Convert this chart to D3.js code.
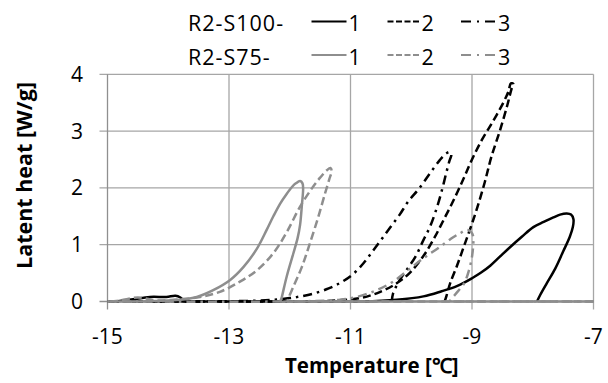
<!DOCTYPE html>
<html><head><meta charset="utf-8">
<script src="https://cdn.jsdelivr.net/npm/d3@7"></script>
<style>body{margin:0;background:#fff} svg{display:block} text{font-family:"Open Sans",sans-serif;fill:#000}</style>
</head><body><svg id="c" width="608" height="383"></svg>
<script>
// ---- data ----
const xTicks = [-15, -13, -11, -9, -7];
const yTicks = [0, 1, 2, 3, 4];
const legendGroups = ["R2-S100-", "R2-S75-"];
const legendNumbers = ["1", "2", "3"];
const xTitle = "Temperature [\u2103]";
const yTitle = "Latent heat [W/g]";

// [temperature °C, latent heat W/g]
const r2s100_1 = [[-7.93,0],[-7.88,0.11],[-7.77,0.32],[-7.63,0.58],[-7.50,0.88],[-7.39,1.14],[-7.34,1.31],[-7.33,1.45],[-7.37,1.53],[-7.44,1.55],[-7.55,1.53],[-7.66,1.48],[-7.82,1.40],[-7.99,1.31],[-8.18,1.14],[-8.37,0.96],[-8.55,0.78],[-8.70,0.63],[-8.85,0.51],[-9.0,0.41],[-9.25,0.27],[-9.50,0.18],[-9.80,0.09],[-10.24,0.03],[-10.8,0.0],[-11.2,0],[-13.4,0],[-13.6,0],[-13.72,0.0],[-13.80,0.07],[-13.88,0.10],[-14.03,0.08],[-14.30,0.08],[-14.58,0.04],[-14.8,0.01],[-15,0]];
const r2s100_2 = [[-9.45,0],[-9.42,0.10],[-9.36,0.32],[-9.25,0.62],[-9.14,0.95],[-9.03,1.28],[-8.92,1.63],[-8.79,2.10],[-8.68,2.55],[-8.54,3.01],[-8.42,3.45],[-8.35,3.74],[-8.32,3.83],[-8.36,3.84],[-8.40,3.70],[-8.48,3.51],[-8.65,3.18],[-8.84,2.84],[-9.0,2.50],[-9.14,2.16],[-9.30,1.79],[-9.47,1.43],[-9.63,1.10],[-9.80,0.80],[-10.02,0.51],[-10.24,0.32],[-10.51,0.17],[-10.84,0.06],[-11.2,0.02],[-11.6,0],[-12,0],[-15,0]];
const r2s100_3 = [[-10.32,0],[-10.30,0.14],[-10.20,0.36],[-10.08,0.55],[-9.93,0.79],[-9.80,1.08],[-9.69,1.32],[-9.57,1.68],[-9.49,1.98],[-9.42,2.28],[-9.37,2.48],[-9.34,2.58],[-9.36,2.63],[-9.42,2.61],[-9.53,2.49],[-9.69,2.26],[-9.87,1.99],[-10.05,1.76],[-10.19,1.53],[-10.35,1.30],[-10.50,1.08],[-10.64,0.88],[-10.79,0.67],[-10.96,0.48],[-11.15,0.34],[-11.36,0.23],[-11.61,0.14],[-11.82,0.09],[-12.0,0.06],[-12.4,0.02],[-13,0.005],[-13.4,0],[-15,0]];
const r2s75_1 = [[-7,0],[-11.9,0],[-12.05,0],[-12.15,0],[-12.13,0.08],[-12.05,0.44],[-11.94,0.85],[-11.87,1.12],[-11.83,1.35],[-11.80,1.70],[-11.78,1.98],[-11.79,2.08],[-11.83,2.12],[-11.90,2.08],[-11.96,2.02],[-12.06,1.88],[-12.16,1.72],[-12.27,1.50],[-12.38,1.26],[-12.54,0.93],[-12.76,0.61],[-12.98,0.38],[-13.26,0.20],[-13.53,0.08],[-13.81,0.03],[-14.2,0.01],[-14.5,0],[-15,0]];
const r2s75_2 = [[-7,0],[-11.8,0],[-11.95,0],[-12.03,0],[-12.02,0.06],[-11.94,0.26],[-11.80,0.61],[-11.67,1.02],[-11.53,1.49],[-11.42,1.90],[-11.35,2.15],[-11.31,2.30],[-11.33,2.35],[-11.39,2.31],[-11.50,2.18],[-11.63,2.00],[-11.83,1.67],[-12.05,1.22],[-12.27,0.85],[-12.54,0.55],[-12.82,0.35],[-13.15,0.17],[-13.48,0.08],[-13.81,0.04],[-14.2,0.02],[-14.35,0.05],[-14.5,0.07],[-14.65,0.05],[-14.85,0.01],[-15,0]];
const r2s75_3 = [[-7,0],[-9.0,0],[-9.2,0],[-9.36,0],[-9.28,0.12],[-9.13,0.32],[-9.05,0.55],[-9.00,0.79],[-8.98,1.00],[-8.98,1.15],[-9.02,1.23],[-9.08,1.26],[-9.20,1.20],[-9.31,1.13],[-9.53,0.96],[-9.80,0.76],[-10.02,0.58],[-10.30,0.35],[-10.57,0.20],[-10.90,0.08],[-11.17,0.03],[-11.6,0.01],[-12,0],[-15,0]];

// ---- drawing ----
const svg = d3.select("#c");
svg.append("rect").attr("width",608).attr("height",383).attr("fill","#fff");
const x = d3.scaleLinear().domain([-15,-7]).range([107.5,593.5]);
const y = d3.scaleLinear().domain([0,4]).range([301.5,74.3]);
const gridCol = "#a6a6a6", axisCol = "#8f8f8f";
const fs = 21;

// horizontal gridlines + y ticks
svg.append("g").selectAll("line").data(yTicks.filter(d=>d>0)).join("line")
  .attr("x1",99.5).attr("x2",x(-7)).attr("y1",d=>y(d)).attr("y2",d=>y(d))
  .attr("stroke",gridCol).attr("stroke-width",1.3);
// vertical gridlines + x ticks
svg.append("g").selectAll("line").data(xTicks.filter(d=>d>-15)).join("line")
  .attr("x1",d=>x(d)).attr("x2",d=>x(d)).attr("y1",y(4)).attr("y2",309.5)
  .attr("stroke",gridCol).attr("stroke-width",1.3);
// axes
svg.append("line").attr("x1",x(-15)).attr("x2",x(-15)).attr("y1",y(4)).attr("y2",309.5).attr("stroke",axisCol).attr("stroke-width",1.3);
svg.append("line").attr("x1",99.5).attr("x2",x(-7)).attr("y1",y(0)).attr("y2",y(0)).attr("stroke",axisCol).attr("stroke-width",1.3);

// tick labels
svg.append("g").selectAll("text").data(yTicks).join("text")
  .attr("x",83).attr("y",d=>y(d)+fs*0.36).attr("text-anchor","end").attr("font-size",fs).text(d=>d);
svg.append("g").selectAll("text").data(xTicks).join("text")
  .attr("x",d=>x(d)).attr("y",344).attr("text-anchor","middle").attr("font-size",fs).text(d=>d);

// titles
svg.append("text").attr("x",285).attr("y",372.5).attr("font-size",20.5).attr("font-weight","bold").text(xTitle);
svg.append("text").attr("transform","translate(32,175.5) rotate(-90)").attr("text-anchor","middle")
  .attr("font-size",21.5).attr("font-weight","bold").text(yTitle);

// series
const black = "#000", gray = "#8e8e8e";
const dashS = null, dashD = "8,4", dashDD = "9,5,2.5,5";
const series = [
  {data:r2s100_1, color:black, dash:dashS},
  {data:r2s100_2, color:black, dash:dashD},
  {data:r2s100_3, color:black, dash:dashDD},
  {data:r2s75_1, color:gray, dash:dashS},
  {data:r2s75_2, color:gray, dash:dashD},
  {data:r2s75_3, color:gray, dash:dashDD}
];
const line = d3.line().x(d=>x(d[0])).y(d=>y(d[1])).curve(d3.curveCatmullRom.alpha(0.5));
svg.append("g").selectAll("path").data(series).join("path")
  .attr("d",d=>line(d.data)).attr("fill","none").attr("stroke",d=>d.color)
  .attr("stroke-width",2.5).attr("stroke-dasharray",d=>d.dash).attr("stroke-linejoin","round");

// legend
const rowY = [31, 65];
const lineY = [21.5, 55];
const legDash = [null, "6,2.5", "10,6,2,6"];
const sampleX = [[311.5,346.5],[387.5,420],[461,496]];
const numX = [348.5, 421.5, 498];
legendGroups.forEach((g,i)=>{
  svg.append("text").attr("x",188).attr("y",rowY[i]).attr("font-size",21.5).attr("letter-spacing",1).text(g);
  legendNumbers.forEach((n,j)=>{
    svg.append("line").attr("x1",sampleX[j][0]).attr("x2",sampleX[j][1]).attr("y1",lineY[i]).attr("y2",lineY[i])
      .attr("stroke",i===0?black:gray).attr("stroke-width",2.2).attr("stroke-dasharray",legDash[j]);
    svg.append("text").attr("x",numX[j]).attr("y",rowY[i]).attr("font-size",21.5).text(n);
  });
});
</script></body></html>
